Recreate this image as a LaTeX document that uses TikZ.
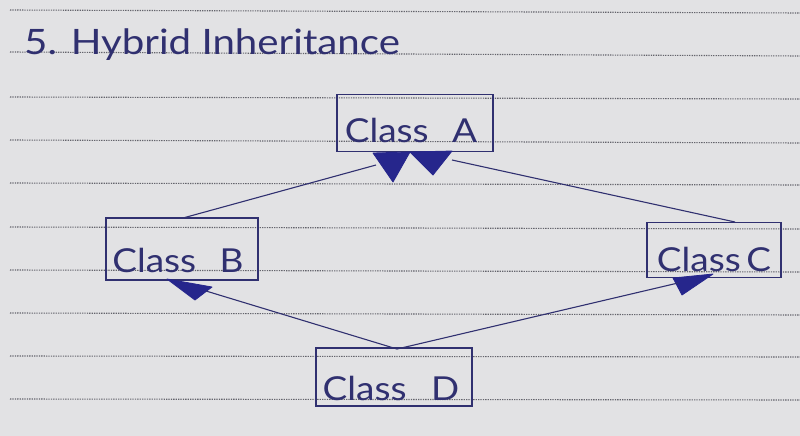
\documentclass[tikz,border=0pt]{standalone}
\usepackage{fontspec}
\setmainfont{Lato}
\definecolor{paper}{RGB}{226,226,228}
\definecolor{ink}{RGB}{48,48,112}
\definecolor{inkfill}{RGB}{38,38,140}
\definecolor{rule}{RGB}{100,100,108}
\begin{document}
\begin{tikzpicture}[x=1pt,y=-1pt,
  box/.style={draw=ink,line width=1.8pt,rectangle,inner sep=0pt},
  lbl/.style={text=ink,font=\fontsize{33}{40}\selectfont,inner sep=0pt,anchor=base},
  conn/.style={draw=ink,line width=1.1pt},
  head/.style={fill=inkfill,draw=inkfill,line width=0.8pt,line join=round},
  ruleline/.style={draw=rule,line width=1.1pt,dash pattern=on 1.3pt off 1.1pt}]
\useasboundingbox (0,0) rectangle (800,436);
\fill[paper] (0,0) rectangle (800,436);
% ruled lines
\foreach \l/\r in {10/13,52/56,97/99,140/143,183/185,227/229,270/272,313/315,356/357,399/400}
  \draw[ruleline] (10,\l) -- (800,\r);
% title
\node[lbl,anchor=base west,font=\fontsize{35}{42}\selectfont] (title) at (24,55) {\scalebox{1.15}[1]{5. Hybrid Inheritance}};
% boxes
\node[box,minimum width=156pt,minimum height=57pt] (A) at (415,123) {};
\node[box,minimum width=152pt,minimum height=62pt] (B) at (182,249) {};
\node[box,minimum width=134pt,minimum height=55pt] (C) at (714,250) {};
\node[box,minimum width=156pt,minimum height=58pt] (D) at (394,377) {};
% labels
\node[lbl] (At) at (411,142) {\scalebox{1.12}[1]{Class\hspace{21pt}A}};
\node[lbl] (Bt) at (178,272) {\scalebox{1.12}[1]{Class\hspace{21pt}B}};
\node[lbl] (Ct) at (714,271) {\scalebox{1.12}[1]{Class\hspace{5pt}C}};
\node[lbl] (Dt) at (391,400) {\scalebox{1.12}[1]{Class\hspace{22pt}D}};
% arrow heads
\path[head] (373,153) -- (410,152) -- (393,182) -- cycle;
\path[head] (410,152) -- (452,151) -- (433,175) -- cycle;
\path[head] (167,279) -- (212,287) -- (195,300) -- cycle;
\path[head] (673,278) -- (713,274) -- (682,295) -- cycle;
% connector endpoints
\coordinate (Bin) at (183,218);
\coordinate (Ain1) at (376,165);
\coordinate (Ain2) at (452,160);
\coordinate (Cin) at (735,222);
\coordinate (Dtop) at (397,349);
\coordinate (Bhead) at (206,291);
\coordinate (Chead) at (678,283);
\draw[conn] (Bin) -- (Ain1);
\draw[conn] (Cin) -- (Ain2);
\draw[conn] (Dtop) -- (Bhead);
\draw[conn] (Dtop) -- (Chead);
\end{tikzpicture}
\end{document}
